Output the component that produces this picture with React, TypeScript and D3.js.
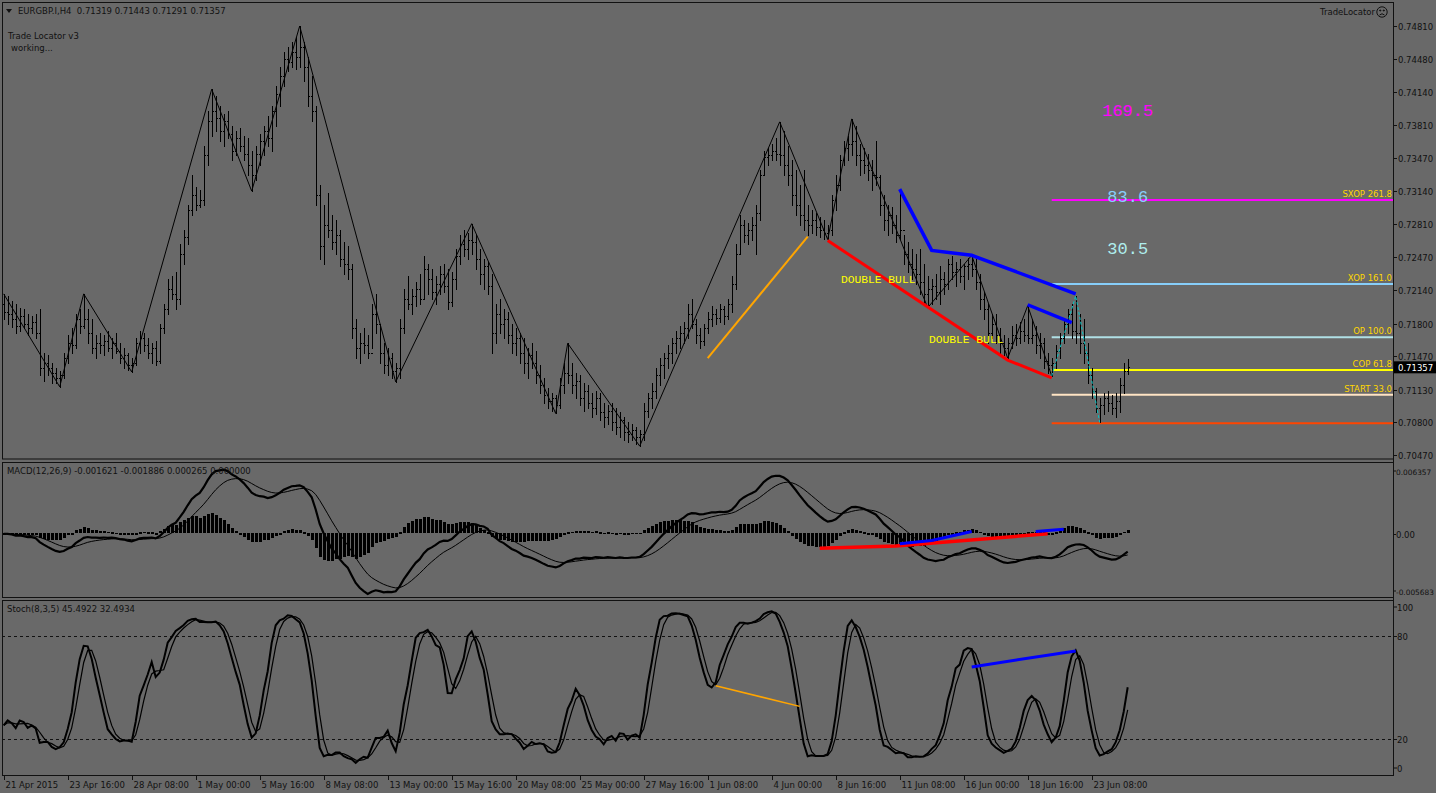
import * as d3 from "d3";
import React from "react";

// ---- data ----
const symbolHeader = "EURGBP.I,H4  0.71319 0.71443 0.71291 0.71357";
const macdHeader = "MACD(12,26,9) -0.001621 -0.001886 0.000265 0.000000";
const stochHeader = "Stoch(8,3,5) 45.4922 32.4934";

const highs = [
  0.7210, 0.7208, 0.7203, 0.7200, 0.7196, 0.7195, 0.7190, 0.7188, 0.7190, 0.7195,
  0.7150, 0.7148, 0.7140, 0.7135, 0.7132, 0.7150, 0.7168, 0.7175, 0.7190, 0.7195,
  0.7210, 0.7195, 0.7185, 0.7168, 0.7170, 0.7168, 0.7172, 0.7165, 0.7170, 0.7160,
  0.7155, 0.7150, 0.7145, 0.7165, 0.7172, 0.7170, 0.7165, 0.7160, 0.7162, 0.7180,
  0.7200, 0.7225, 0.7228, 0.7232, 0.7260, 0.7275, 0.7300, 0.7330, 0.7318, 0.7315,
  0.7360, 0.7395, 0.7417, 0.7410, 0.7400, 0.7392, 0.7395, 0.7380, 0.7375, 0.7378,
  0.7370, 0.7368, 0.7355, 0.7360, 0.7372, 0.7380, 0.7390, 0.7400, 0.7420, 0.7440,
  0.7455, 0.7460, 0.7465, 0.7470, 0.7481, 0.7465, 0.7450, 0.7430, 0.7400, 0.7320,
  0.7300, 0.7312, 0.7290, 0.7285, 0.7275, 0.7262, 0.7258, 0.7240, 0.7185, 0.7170,
  0.7175, 0.7168, 0.7200, 0.7210, 0.7180, 0.7160, 0.7155, 0.7150, 0.7140, 0.7185,
  0.7215, 0.7228, 0.7215, 0.7222, 0.7230, 0.7248, 0.7240, 0.7235, 0.7228, 0.7238,
  0.7240, 0.7235, 0.7232, 0.7255, 0.7270, 0.7275, 0.7272, 0.7281, 0.7270, 0.7255,
  0.7245, 0.7242, 0.7230, 0.7200, 0.7205, 0.7195, 0.7192, 0.7180, 0.7175, 0.7170,
  0.7165, 0.7155, 0.7160, 0.7152, 0.7138, 0.7125, 0.7115, 0.7110, 0.7108, 0.7125,
  0.7140, 0.7160, 0.7140, 0.7130, 0.7128, 0.7120, 0.7118, 0.7110, 0.7112, 0.7110,
  0.7100, 0.7098, 0.7100, 0.7095, 0.7090, 0.7085, 0.7080, 0.7078, 0.7075, 0.7072,
  0.7100, 0.7110, 0.7120, 0.7135, 0.7145, 0.7150, 0.7158, 0.7165, 0.7172, 0.7178,
  0.7182, 0.7200, 0.7205, 0.7185, 0.7175, 0.7180, 0.7192, 0.7198, 0.7195, 0.7200,
  0.7198, 0.7205, 0.7228, 0.7260, 0.7290, 0.7285, 0.7282, 0.7288, 0.7300, 0.7335,
  0.7355, 0.7358, 0.7362, 0.7368, 0.7384, 0.7375, 0.7360, 0.7345, 0.7335, 0.7320,
  0.7335, 0.7300, 0.7295, 0.7292, 0.7288, 0.7285, 0.7280, 0.7310, 0.7330, 0.7350,
  0.7365, 0.7370, 0.7387, 0.7380, 0.7362, 0.7358, 0.7352, 0.7345, 0.7365, 0.7330,
  0.7310, 0.7300, 0.7298, 0.7290, 0.7316, 0.7270, 0.7262, 0.7255, 0.7250, 0.7255,
  0.7240, 0.7228, 0.7225, 0.7230, 0.7238, 0.7232, 0.7245, 0.7248, 0.7242, 0.7245,
  0.7240, 0.7246, 0.7249, 0.7245, 0.7230, 0.7212, 0.7200, 0.7190, 0.7190, 0.7175,
  0.7168, 0.7165, 0.7178, 0.7180, 0.7182, 0.7185, 0.7198, 0.7185, 0.7178, 0.7170,
  0.7165, 0.7150, 0.7145, 0.7158, 0.7170, 0.7185, 0.7195, 0.7200, 0.7208, 0.7190,
  0.7185, 0.7160, 0.7135, 0.7115, 0.7105, 0.7110, 0.7112, 0.7108, 0.7110, 0.7125,
  0.7140, 0.71443,
];

const lows = [
  0.7185, 0.7180, 0.7176, 0.7170, 0.7172, 0.7175, 0.7168, 0.7170, 0.7165, 0.7128,
  0.7122, 0.7128, 0.7120, 0.7120, 0.7116, 0.7125, 0.7140, 0.7150, 0.7155, 0.7170,
  0.7175, 0.7160, 0.7150, 0.7145, 0.7150, 0.7148, 0.7152, 0.7145, 0.7150, 0.7140,
  0.7135, 0.7133, 0.7131, 0.7138, 0.7150, 0.7152, 0.7145, 0.7140, 0.7138, 0.7140,
  0.7170, 0.7190, 0.7205, 0.7195, 0.7200, 0.7240, 0.7260, 0.7290, 0.7295, 0.7298,
  0.7300, 0.7340, 0.7370, 0.7375, 0.7365, 0.7360, 0.7368, 0.7345, 0.7350, 0.7355,
  0.7345, 0.7330, 0.7314, 0.7325, 0.7340, 0.7350, 0.7360, 0.7355, 0.7380, 0.7400,
  0.7420, 0.7435, 0.7440, 0.7438, 0.7440, 0.7425, 0.7400, 0.7385, 0.7300, 0.7245,
  0.7240, 0.7268, 0.7255, 0.7250, 0.7238, 0.7230, 0.7225, 0.7165, 0.7145, 0.7140,
  0.7150, 0.7145, 0.7155, 0.7170, 0.7140, 0.7130, 0.7128, 0.7125, 0.7121, 0.7125,
  0.7170, 0.7195, 0.7190, 0.7198, 0.7200, 0.7205, 0.7210, 0.7205, 0.7200, 0.7210,
  0.7212, 0.7195, 0.7198, 0.7215, 0.7240, 0.7248, 0.7245, 0.7250, 0.7235, 0.7220,
  0.7215, 0.7210, 0.7150, 0.7160, 0.7170, 0.7165, 0.7160, 0.7150, 0.7148, 0.7140,
  0.7130, 0.7125, 0.7135, 0.7120, 0.7110, 0.7100, 0.7095, 0.7092, 0.7089, 0.7095,
  0.7110, 0.7120, 0.7110, 0.7105, 0.7098, 0.7092, 0.7095, 0.7085, 0.7088, 0.7082,
  0.7075, 0.7078, 0.7072, 0.7068, 0.7065, 0.7062, 0.7060, 0.7062, 0.7058, 0.7056,
  0.7062, 0.7085, 0.7095, 0.7105, 0.7118, 0.7125, 0.7135, 0.7140, 0.7150, 0.7155,
  0.7160, 0.7165, 0.7175, 0.7160, 0.7155, 0.7158, 0.7170, 0.7178, 0.7180, 0.7182,
  0.7180, 0.7185, 0.7192, 0.7215, 0.7250, 0.7262, 0.7260, 0.7265, 0.7250, 0.7285,
  0.7330, 0.7340, 0.7345, 0.7345, 0.7340, 0.7330, 0.7320, 0.7300, 0.7290, 0.7280,
  0.7275, 0.7270, 0.7272, 0.7270, 0.7268, 0.7266, 0.7265, 0.7270, 0.7295, 0.7315,
  0.7340, 0.7345, 0.7350, 0.7340, 0.7330, 0.7332, 0.7325, 0.7315, 0.7320, 0.7290,
  0.7275, 0.7270, 0.7272, 0.7262, 0.7266, 0.7240, 0.7232, 0.7225, 0.7220, 0.7210,
  0.7200, 0.7196, 0.7200, 0.7205, 0.7200, 0.7210, 0.7215, 0.7225, 0.7218, 0.7222,
  0.7215, 0.7225, 0.7228, 0.7215, 0.7195, 0.7185, 0.7160, 0.7165, 0.7160, 0.7150,
  0.7148, 0.7145, 0.7155, 0.7158, 0.7160, 0.7162, 0.7160, 0.7160, 0.7150, 0.7145,
  0.7135, 0.7130, 0.7127, 0.7135, 0.7145, 0.7160, 0.7170, 0.7165, 0.7160, 0.7150,
  0.7140, 0.7120, 0.7105, 0.7090, 0.7080, 0.7088, 0.7092, 0.7088, 0.7085, 0.7090,
  0.7110, 0.71291,
];

const closes = [
  0.7192, 0.7190, 0.7185, 0.7178, 0.7188, 0.7180, 0.7175, 0.7182, 0.7170, 0.7135,
  0.7140, 0.7135, 0.7130, 0.7125, 0.7128, 0.7145, 0.7160, 0.7158, 0.7185, 0.7178,
  0.7185, 0.7170, 0.7155, 0.7160, 0.7158, 0.7162, 0.7155, 0.7160, 0.7152, 0.7145,
  0.7148, 0.7138, 0.7140, 0.7160, 0.7165, 0.7158, 0.7150, 0.7155, 0.7142, 0.7175,
  0.7195, 0.7215, 0.7210, 0.7205, 0.7250, 0.7268, 0.7295, 0.7310, 0.7300, 0.7305,
  0.7350, 0.7385, 0.7395, 0.7388, 0.7375, 0.7385, 0.7372, 0.7355, 0.7368, 0.7360,
  0.7352, 0.7340, 0.7330, 0.7352, 0.7365, 0.7375, 0.7368, 0.7395, 0.7412, 0.7430,
  0.7448, 0.7445, 0.7455, 0.7450, 0.7460, 0.7440, 0.7410, 0.7395, 0.7310, 0.7258,
  0.7280, 0.7275, 0.7262, 0.7270, 0.7245, 0.7240, 0.7235, 0.7175, 0.7155, 0.7160,
  0.7158, 0.7150, 0.7190, 0.7180, 0.7150, 0.7138, 0.7145, 0.7132, 0.7135, 0.7175,
  0.7205, 0.7200, 0.7208, 0.7215, 0.7205, 0.7235, 0.7225, 0.7212, 0.7220, 0.7230,
  0.7218, 0.7202, 0.7225, 0.7248, 0.7260, 0.7255, 0.7265, 0.7262, 0.7245, 0.7230,
  0.7238, 0.7218, 0.7170, 0.7190, 0.7180, 0.7185, 0.7168, 0.7160, 0.7165, 0.7150,
  0.7140, 0.7148, 0.7140, 0.7128, 0.7118, 0.7108, 0.7102, 0.7105, 0.7098, 0.7118,
  0.7130, 0.7128, 0.7118, 0.7122, 0.7105, 0.7112, 0.7100, 0.7095, 0.7105, 0.7090,
  0.7085, 0.7092, 0.7080, 0.7075, 0.7082, 0.7070, 0.7068, 0.7072, 0.7065, 0.7068,
  0.7092, 0.7105, 0.7112, 0.7128, 0.7138, 0.7145, 0.7150, 0.7160, 0.7165, 0.7170,
  0.7175, 0.7190, 0.7180, 0.7168, 0.7162, 0.7175, 0.7185, 0.7190, 0.7186, 0.7195,
  0.7188, 0.7200, 0.7220, 0.7250, 0.7280, 0.7270, 0.7275, 0.7280, 0.7292, 0.7330,
  0.7348, 0.7350, 0.7355, 0.7352, 0.7350, 0.7340, 0.7330, 0.7310, 0.7300, 0.7290,
  0.7285, 0.7280, 0.7285, 0.7278, 0.7275, 0.7272, 0.7275, 0.7305, 0.7320, 0.7345,
  0.7358, 0.7362, 0.7365, 0.7350, 0.7345, 0.7340, 0.7335, 0.7330, 0.7328, 0.7300,
  0.7285, 0.7290, 0.7280, 0.7270, 0.7275, 0.7250, 0.7240, 0.7235, 0.7230, 0.7222,
  0.7210, 0.7215, 0.7218, 0.7212, 0.7225, 0.7220, 0.7240, 0.7232, 0.7235, 0.7228,
  0.7238, 0.7240, 0.7235, 0.7222, 0.7205, 0.7195, 0.7170, 0.7180, 0.7168, 0.7160,
  0.7155, 0.7160, 0.7168, 0.7165, 0.7172, 0.7168, 0.7165, 0.7168, 0.7158, 0.7160,
  0.7142, 0.7138, 0.7140, 0.7152, 0.7165, 0.7180, 0.7190, 0.7172, 0.7170, 0.7160,
  0.7150, 0.7128, 0.7112, 0.7095, 0.7098, 0.7105, 0.7100, 0.7095, 0.7102, 0.7118,
  0.7132, 0.71357,
];
const firstOpen = 0.7200;

// zigzag pivots: bar index and whether it sits on the high or the low
const pivotBars = [0, 14, 20, 32, 52, 62, 74, 98, 117, 138, 141, 159, 194, 206, 212, 231, 242, 251, 256, 262];
const pivotIsHigh = [true, false, true, false, true, false, true, false, true, false, true, false, true, false, true, false, true, false, true, false];
const projectionBars = [262, 268, 274];
const projectionIsHigh = [false, true, false];

// pattern lines on the price window: [bar, price]
const blueLineA: [number, number][] = [[224, 0.7316], [232, 0.7254], [242, 0.7249], [268, 0.7210]];
const blueLineB: [number, number][] = [[256, 0.7199], [267, 0.7181]];
const redLine: [number, number][] = [[206, 0.7264], [251, 0.7143], [262, 0.7125]];
const orangeLine: [number, number][] = [[176, 0.7145], [201, 0.7268]];

// target levels
const levelNames = ["SXOP 261.8", "XOP 161.0", "OP 100.0", "COP 61.8", "START 33.0", ""];
const levelPrices = [0.7305, 0.7220, 0.7166, 0.7133, 0.7108, 0.7079];
const levelColors = ["#ff00ff", "#87cefa", "#b0e0e6", "#ffff00", "#ffe4c4", "#ff4500"];
const levelStartBar = 262;

const bigNumbers = ["169.5", "83.6", "30.5"];
const bigNumberPrices = [0.7396, 0.7309, 0.7256];
const bigNumberColors = ["#ff00ff", "#87cefa", "#afeeee"];

const patternTexts = ["DOUBLE BULL", "DOUBLE BULL"];
const patternTextAt: [number, number][] = [[209.3, 0.7225], [231.3, 0.7164]];

// divergence lines on the oscillators: [bar, value]
const macdRed: [number, number][] = [[204, -0.0013], [223, -0.0011], [261, 0.0]];
const macdBlueA: [number, number][] = [[224, -0.0009], [232, -0.0006], [242, 0.0002]];
const macdBlueB: [number, number][] = [[258, 0.0002], [265, 0.0004]];
const stochBlue: [number, number][] = [[242, 62], [268, 71.3]];
const stochOrange: [number, number][] = [[178, 51], [199, 39]];

const priceTicks = [0.7481, 0.7448, 0.7414, 0.7381, 0.7347, 0.7314, 0.7281, 0.7247, 0.7214, 0.718, 0.7147, 0.7113, 0.708, 0.7047];
const macdTicks = [0.006357, 0, -0.005683];
const macdTickText = ["0.006357", "0.00", "-0.005683"];
const stochTicks = [100, 80, 20, 0];
const timeLabels = [
  "21 Apr 2015", "23 Apr 16:00", "28 Apr 08:00", "1 May 00:00", "5 May 16:00", "8 May 08:00",
  "13 May 00:00", "15 May 16:00", "20 May 08:00", "25 May 00:00", "27 May 16:00", "1 Jun 08:00",
  "4 Jun 00:00", "8 Jun 16:00", "11 Jun 08:00", "16 Jun 00:00", "18 Jun 16:00", "23 Jun 08:00",
];
const barsPerLabel = 16;

const W = 1436;
const H = 793;
const BG = "#696969";
const INK = "#111";
const UI = "DejaVu Sans, Verdana, sans-serif";
const MONO = "Liberation Mono, DejaVu Sans Mono, monospace";

// indicator helpers (standard MACD / stochastic definitions)
const ema = (src: number[], n: number) => {
  const k = 2 / (n + 1);
  const out: number[] = [];
  src.forEach((v, i) => out.push(i === 0 ? v : out[i - 1] + k * (v - out[i - 1])));
  return out;
};

const draw = (node: SVGSVGElement) => {
  const svg = d3.select(node);
  svg.selectAll("*").remove();
  svg.append("rect").attr("width", W).attr("height", H).attr("fill", BG);

  const n = closes.length;
  const opens = [firstOpen, ...closes.slice(0, -1)];
  const x = d3.scaleLinear().domain([0, n - 1]).range([3.7, 1127.7]);
  const yP = d3.scaleLinear().domain([0.7047, 0.7481]).range([455, 26]);
  const yM = d3.scaleLinear().domain([-0.005683, 0.006357]).range([597, 463]);
  const yS = d3.scaleLinear().domain([20, 80]).range([739, 636]);
  const px = (i: number) => Math.round(x(i)) + 0.5;
  const py = (v: number) => Math.round(yP(v)) + 0.5;

  const defs = svg.append("defs");
  defs.append("clipPath").attr("id", "cMain").append("rect").attr("x", 2).attr("y", 2).attr("width", 1391).attr("height", 457);
  defs.append("clipPath").attr("id", "cMacd").append("rect").attr("x", 2).attr("y", 463).attr("width", 1391).attr("height", 134);
  defs.append("clipPath").attr("id", "cStoch").append("rect").attr("x", 2).attr("y", 601).attr("width", 1391).attr("height", 174);

  // panel frames
  const frames = [[2.5, 2.5, 1391, 456.5], [2.5, 462.5, 1391, 135], [2.5, 600.5, 1391, 175]];
  svg.append("g").selectAll("rect").data(frames).join("rect")
    .attr("x", (d) => d[0]).attr("y", (d) => d[1]).attr("width", (d) => d[2]).attr("height", (d) => d[3])
    .attr("fill", "none").attr("stroke", INK).attr("stroke-width", 1);

  // ---------------- price window ----------------
  const main = svg.append("g").attr("clip-path", "url(#cMain)");

  // fib levels
  main.append("g").selectAll("line").data(levelPrices).join("line")
    .attr("x1", x(levelStartBar)).attr("x2", 1393)
    .attr("y1", (d) => yP(d)).attr("y2", (d) => yP(d))
    .attr("stroke", (_, i) => levelColors[i]).attr("stroke-width", 2);
  main.append("g").selectAll("text").data(levelNames).join("text")
    .text((d) => d).attr("x", 1392).attr("y", (_, i) => yP(levelPrices[i]) - 3)
    .attr("text-anchor", "end").attr("font-family", UI).attr("font-size", 8.5).attr("fill", "#ffd700");

  // OHLC bars
  let barPath = "";
  for (let i = 0; i < n; i++) {
    const X = px(i);
    barPath += `M${X},${py(highs[i]) - 0.5}V${py(lows[i]) + 0.5}`;
    barPath += `M${X - 1.5},${py(opens[i])}H${X}`;
    barPath += `M${X},${py(closes[i])}H${X + 1.5}`;
  }
  main.append("path").attr("d", barPath).attr("stroke", "#000").attr("stroke-width", 1)
    .attr("fill", "none").attr("shape-rendering", "crispEdges");

  // zigzag
  const line = d3.line<[number, number]>().x((d) => x(d[0])).y((d) => yP(d[1]));
  const zig: [number, number][] = pivotBars.map((b, k) => [b, pivotIsHigh[k] ? highs[b] : lows[b]]);
  main.append("path").attr("d", line(zig)).attr("fill", "none").attr("stroke", "#000").attr("stroke-width", 1);
  const proj: [number, number][] = projectionBars.map((b, k) => [b, projectionIsHigh[k] ? highs[b] : lows[b]]);
  main.append("path").attr("d", line(proj)).attr("fill", "none").attr("stroke", "#00c8c8")
    .attr("stroke-width", 1).attr("stroke-dasharray", "3,2");

  main.append("path").attr("d", line(orangeLine)).attr("fill", "none").attr("stroke", "#ffa500").attr("stroke-width", 2);
  main.append("path").attr("d", line(redLine)).attr("fill", "none").attr("stroke", "#ff0000").attr("stroke-width", 3);
  main.append("path").attr("d", line(blueLineA)).attr("fill", "none").attr("stroke", "#0000ff").attr("stroke-width", 3.5);
  main.append("path").attr("d", line(blueLineB)).attr("fill", "none").attr("stroke", "#0000ff").attr("stroke-width", 3.5);

  main.append("g").selectAll("text").data(patternTexts).join("text")
    .text((d) => d).attr("x", (_, i) => x(patternTextAt[i][0])).attr("y", (_, i) => yP(patternTextAt[i][1]) + 4)
    .attr("font-family", MONO).attr("font-size", 11.3).attr("fill", "#ffff00");

  main.append("g").selectAll("text").data(bigNumbers).join("text")
    .text((d) => d).attr("x", x(n - 1)).attr("y", (_, i) => yP(bigNumberPrices[i]) + 6)
    .attr("text-anchor", "middle").attr("font-family", MONO).attr("font-size", 17)
    .attr("fill", (_, i) => bigNumberColors[i]);

  // texts in the corner
  svg.append("path").attr("d", "M6,9L12,9L9,13Z").attr("fill", INK);
  svg.append("text").text(symbolHeader).attr("x", 18).attr("y", 14).attr("font-family", UI)
    .attr("font-size", 8.5).attr("fill", INK).attr("xml:space", "preserve").style("white-space", "pre");
  svg.append("text").text("Trade Locator v3").attr("x", 8).attr("y", 39).attr("font-family", UI).attr("font-size", 8.5).attr("fill", INK);
  svg.append("text").text("working...").attr("x", 11).attr("y", 51).attr("font-family", UI).attr("font-size", 8.5).attr("fill", INK);
  svg.append("text").text("TradeLocator").attr("x", 1375).attr("y", 15).attr("text-anchor", "end")
    .attr("font-family", UI).attr("font-size", 8.5).attr("fill", INK);
  const face = svg.append("g").attr("transform", "translate(1382,12)").attr("fill", "none").attr("stroke", INK);
  face.append("circle").attr("r", 5.2).attr("stroke-width", 1);
  face.append("circle").attr("cx", -1.8).attr("cy", -1.5).attr("r", 0.6).attr("fill", INK);
  face.append("circle").attr("cx", 1.8).attr("cy", -1.5).attr("r", 0.6).attr("fill", INK);
  face.append("path").attr("d", "M-2.5,3 Q0,0.5 2.5,3").attr("stroke-width", 1);

  // ---------------- MACD ----------------
  const fast = ema(closes, 12);
  const slow = ema(closes, 26);
  const macd = fast.map((v, i) => v - slow[i]);
  const signal = ema(macd, 9);
  const hist = macd.map((v, i) => v - signal[i]);

  const mg = svg.append("g").attr("clip-path", "url(#cMacd)");
  const z = yM(0);
  mg.append("g").selectAll("rect").data(hist).join("rect")
    .attr("x", (_, i) => Math.round(x(i)) - 1).attr("width", 3)
    .attr("y", (d) => Math.min(z, yM(d)) - 0.5)
    .attr("height", (d) => Math.max(1.5, Math.abs(yM(d) - z)))
    .attr("fill", "#000").attr("shape-rendering", "crispEdges");
  const mLine = d3.line<number>().x((_, i) => x(i)).y((d) => yM(d));
  mg.append("path").attr("d", mLine(signal)).attr("fill", "none").attr("stroke", "#000").attr("stroke-width", 1);
  mg.append("path").attr("d", mLine(macd)).attr("fill", "none").attr("stroke", "#000").attr("stroke-width", 2.2);
  const dLineM = d3.line<[number, number]>().x((d) => x(d[0])).y((d) => yM(d[1]));
  mg.append("path").attr("d", dLineM(macdRed)).attr("fill", "none").attr("stroke", "#ff0000").attr("stroke-width", 3.5);
  mg.append("path").attr("d", dLineM(macdBlueA)).attr("fill", "none").attr("stroke", "#0000ff").attr("stroke-width", 3);
  mg.append("path").attr("d", dLineM(macdBlueB)).attr("fill", "none").attr("stroke", "#0000ff").attr("stroke-width", 3);
  svg.append("text").text(macdHeader).attr("x", 7).attr("y", 474).attr("font-family", UI).attr("font-size", 8.5).attr("fill", INK);

  // ---------------- Stochastic ----------------
  const kP = 8, slowing = 5, dP = 3;
  const hh = highs.map((_, i) => d3.max(highs.slice(Math.max(0, i - kP + 1), i + 1)) as number);
  const ll = lows.map((_, i) => d3.min(lows.slice(Math.max(0, i - kP + 1), i + 1)) as number);
  const stMain = closes.map((_, i) => {
    const from = Math.max(0, i - slowing + 1);
    let num = 0, den = 0;
    for (let j = from; j <= i; j++) { num += closes[j] - ll[j]; den += hh[j] - ll[j]; }
    return den === 0 ? 50 : (num / den) * 100;
  });
  const stSig = stMain.map((_, i) => d3.mean(stMain.slice(Math.max(0, i - dP + 1), i + 1)) as number);

  const sg = svg.append("g").attr("clip-path", "url(#cStoch)");
  sg.append("g").selectAll("line").data([80, 20]).join("line")
    .attr("x1", 2).attr("x2", 1393).attr("y1", (d) => Math.round(yS(d)) + 0.5).attr("y2", (d) => Math.round(yS(d)) + 0.5)
    .attr("stroke", INK).attr("stroke-dasharray", "3,3").attr("stroke-width", 1);
  const sLine = d3.line<number>().x((_, i) => x(i)).y((d) => yS(d));
  sg.append("path").attr("d", sLine(stSig)).attr("fill", "none").attr("stroke", "#000").attr("stroke-width", 1.2);
  sg.append("path").attr("d", sLine(stMain)).attr("fill", "none").attr("stroke", "#000").attr("stroke-width", 2);
  const dLineS = d3.line<[number, number]>().x((d) => x(d[0])).y((d) => yS(d[1]));
  sg.append("path").attr("d", dLineS(stochBlue)).attr("fill", "none").attr("stroke", "#0000ff").attr("stroke-width", 3);
  sg.append("path").attr("d", dLineS(stochOrange)).attr("fill", "none").attr("stroke", "#ffa500").attr("stroke-width", 1.5);
  svg.append("text").text(stochHeader).attr("x", 7).attr("y", 612).attr("font-family", UI).attr("font-size", 8.5).attr("fill", INK);

  // ---------------- axes ----------------
  const ax = svg.append("g").attr("font-family", UI).attr("font-size", 8.5).attr("fill", INK);
  svg.append("line").attr("x1", 1393.5).attr("x2", 1393.5).attr("y1", 2).attr("y2", 776).attr("stroke", INK);

  const priceTick = ax.append("g").selectAll("g").data(priceTicks).join("g")
    .attr("transform", (d) => `translate(0,${Math.round(yP(d)) + 0.5})`);
  priceTick.append("line").attr("x1", 1394).attr("x2", 1397).attr("stroke", INK);
  priceTick.append("text").text((d) => d.toFixed(5)).attr("x", 1398).attr("y", 3.5);

  const macdTick = ax.append("g").selectAll("g").data(macdTicks).join("g")
    .attr("transform", (d, i) => `translate(0,${i === 0 ? 471 : i === 2 ? 591 : Math.round(yM(d)) + 0.5})`);
  macdTick.append("line").attr("x1", 1394).attr("x2", 1396).attr("stroke", INK);
  macdTick.append("text").text((_, i) => macdTickText[i]).attr("x", 1396).attr("y", 3.5)
    .attr("font-size", (_, i) => (i === 1 ? 8.5 : 7.4));

  const stochY = (v: number) => (v === 100 ? 607 : v === 0 ? 768 : Math.round(yS(v)) + 0.5);
  const stTick = ax.append("g").selectAll("g").data(stochTicks).join("g")
    .attr("transform", (d) => `translate(0,${stochY(d)})`);
  stTick.append("line").attr("x1", 1394).attr("x2", 1397).attr("stroke", INK);
  stTick.append("text").text((d) => String(d)).attr("x", 1397).attr("y", 3.5);

  // current price tag
  const lastY = yP(closes[n - 1]);
  svg.append("rect").attr("x", 1394).attr("y", lastY - 6).attr("width", 42).attr("height", 12).attr("fill", "#000");
  svg.append("text").text(closes[n - 1].toFixed(5)).attr("x", 1398).attr("y", lastY + 3.5)
    .attr("font-family", UI).attr("font-size", 8.5).attr("fill", "#fff");

  const timeTick = ax.append("g").selectAll("g").data(timeLabels).join("g")
    .attr("transform", (_, i) => `translate(${px(i * barsPerLabel)},0)`);
  timeTick.append("line").attr("y1", 776).attr("y2", 780).attr("stroke", INK);
  timeTick.append("text").text((d) => d).attr("x", 1).attr("y", 787.5);
};

export default function App() {
  const ref = React.useRef<SVGSVGElement | null>(null);

  React.useEffect(() => {
    if (ref.current) {
      draw(ref.current);
    }
  }, []);

  return (
    <div>
      <style>{`body{margin:0;background:${BG};overflow:hidden}`}</style>
      <svg ref={ref} width={W} height={H} style={{ display: "block" }}></svg>
    </div>
  );
}
